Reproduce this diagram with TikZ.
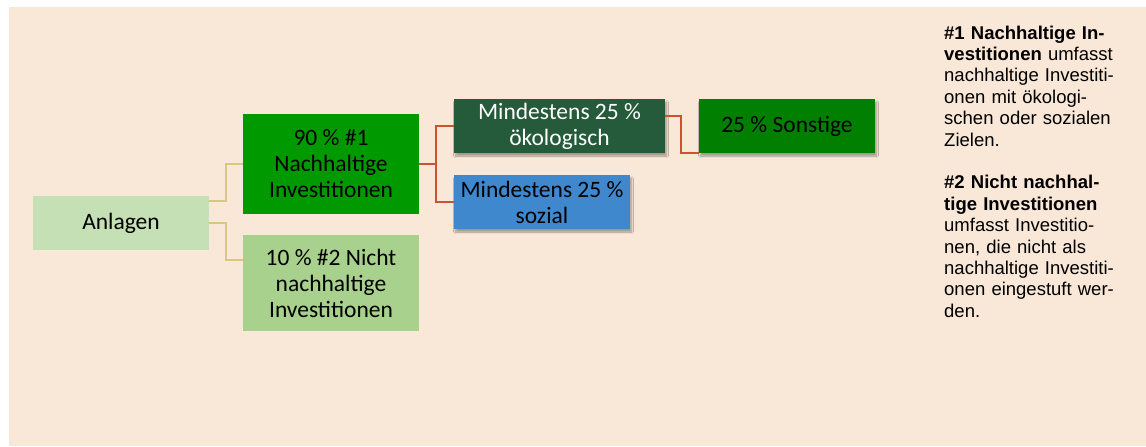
\documentclass[tikz,border=0pt]{standalone}
\usepackage{fontspec}
\setmainfont{Carlito}
\newfontfamily\arialfont{Liberation Sans}
\usetikzlibrary{shadows.blur,calc}
\definecolor{bg}{HTML}{F9E7D7}
\definecolor{anlc}{HTML}{C5E0B4}
\definecolor{greenA}{HTML}{009900}
\definecolor{greenL}{HTML}{A9D18E}
\definecolor{greenD}{HTML}{255A3A}
\definecolor{blueS}{HTML}{3F88CE}
\definecolor{greenS}{HTML}{007F00}
\definecolor{khaki}{HTML}{D8C77F}
\definecolor{redc}{HTML}{CC5330}
\tikzset{
  box/.style={inner sep=0pt, align=center, font=\fontsize{23.5}{26}\selectfont, text=black},
  shad/.style={blur shadow={shadow xshift=1.5pt, shadow yshift=-3pt, shadow blur steps=6, shadow opacity=35}},
  conA/.style={draw=khaki, line width=2pt},
  conB/.style={draw=redc, line width=2pt},
}
\begin{document}
\begin{tikzpicture}[x=1pt,y=-1pt]
\useasboundingbox (0,0) rectangle (1146,447);
\fill[white] (0,0) rectangle (1146,447);
\fill[bg] (9,7) rectangle (1146,446);
\node[box, fill=anlc, minimum width=176pt, minimum height=54pt] (anl) at (121,223) {Anlagen};
\node[box, fill=greenA, minimum width=176pt, minimum height=100pt] (n90) at (331,164) {90 \% \#1\\Nachhaltige\\Investitionen};
\node[box, fill=greenL, minimum width=176pt, minimum height=96pt] (n10) at (331,283) {10 \% \#2 Nicht\\nachhaltige\\Investitionen};
\node[box, fill=greenD, text=white, minimum width=211pt, minimum height=54pt, shad] (oeko) at (559.5,126) {Mindestens 25 \%\\ökologisch};
\node[box, fill=blueS, minimum width=176pt, minimum height=54pt, shad] (soz) at (542,202) {Mindestens 25 \%\\sozial};
\node[box, fill=greenS, minimum width=176pt, minimum height=54pt, shad] (sonst) at (787,126) {25 \% Sonstige};
\draw[conA] ([yshift=-5pt]anl.north east) -- ++(17,0) |- (n90.west);
\draw[conA] (anl.east) -- ++(17,0) |- ([yshift=-25pt]n10.north west);
\draw[conB] (n90.east) -- ++(17,0) |- (oeko.west);
\draw[conB] (n90.east) ++(17,0) |- (soz.west);
\draw[conB] ([yshift=-17pt]oeko.north east) -- ++(16,0) |- (sonst.south west);
\node[anchor=north west, inner sep=0pt, text width=190pt, align=left,
  font=\arialfont\fontsize{18.5}{21.4}\selectfont] (txt) at (944,25.5)
  {\textbf{\#1 Nachhaltige In-}\\
   \textbf{vestitionen} umfasst\\
   nachhaltige Investiti-\\
   onen mit ökologi-\\
   schen oder sozialen\\
   Zielen.\\[21.4pt]
   \textbf{\#2 Nicht nachhal-}\\
   \textbf{tige Investitionen}\\
   umfasst Investitio-\\
   nen, die nicht als\\
   nachhaltige Investiti-\\
   onen eingestuft wer-\\
   den.};
\end{tikzpicture}
\end{document}
